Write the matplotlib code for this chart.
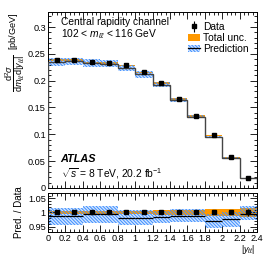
import numpy as np
import matplotlib
matplotlib.use('Agg')
import matplotlib.pyplot as plt
from matplotlib.patches import Patch
from matplotlib.lines import Line2D
from matplotlib.ticker import MultipleLocator

plt.rcParams['font.family'] = ['Liberation Sans', 'DejaVu Sans']
plt.rcParams['mathtext.fontset'] = 'custom'
plt.rcParams['mathtext.rm'] = 'Liberation Sans'
plt.rcParams['mathtext.it'] = 'Liberation Sans:italic'
plt.rcParams['hatch.linewidth'] = 0.7

# bin edges in |y_ll|
edges = [0.0, 0.2, 0.4, 0.6, 0.8, 1.0, 1.2, 1.4, 1.6, 1.8, 2.0, 2.2, 2.4]
# measured cross section [pb/GeV]
data = [0.2380, 0.2392, 0.2340, 0.2330, 0.2283, 0.2155, 0.1958, 0.1660,
        0.1342, 0.0982, 0.0570, 0.0178]
data_err = [0.0008, 0.0008, 0.0008, 0.0008, 0.0008, 0.0008, 0.0007, 0.0006,
            0.0005, 0.0004, 0.0003, 0.0002]
# relative total uncertainty
tot_unc = [0.007, 0.007, 0.007, 0.007, 0.007, 0.007, 0.008, 0.008,
           0.009, 0.012, 0.012, 0.015]
# prediction / data
pred_ratio = [0.986, 0.986, 0.994, 0.994, 0.982, 0.982, 0.984, 0.988,
              0.988, 0.970, 0.976, 0.994]
pred_lo = [0.957, 0.957, 0.964, 0.964, 0.955, 0.955, 0.964, 0.966,
           0.966, 0.946, 0.950, 0.972]
pred_hi = [1.016, 1.016, 1.024, 1.024, 1.008, 1.008, 1.006, 1.011,
           1.011, 0.995, 1.000, 1.022]

edges = np.array(edges)
data = np.array(data)
centers = 0.5 * (edges[:-1] + edges[1:])
widths = np.diff(edges)
tot = np.array(tot_unc)
pr = np.array(pred_ratio)
plo = np.array(pred_lo)
phi = np.array(pred_hi)

orange = '#ff9900'
blue = '#3d8fff'
pale = '#d3e5ff'
hatch = '\\' * 10

fig = plt.figure(figsize=(2.66, 2.56), dpi=100)
ax = fig.add_axes([0.1805, 0.266, 0.786, 0.687])
rax = fig.add_axes([0.1805, 0.094, 0.786, 0.152])


def style_axis(a):
    a.tick_params(which='both', direction='in', top=True, right=True, labelsize=6.6, pad=1.5)
    a.tick_params(which='major', length=5, width=0.6)
    a.tick_params(which='minor', length=2.5, width=0.6)
    for s in a.spines.values():
        s.set_linewidth(0.7)


def draw_bands(a, scale):
    # pale fill, orange total unc., then blue hatch on top
    a.bar(centers, scale * (phi - plo), bottom=scale * plo, width=widths,
          color=pale, linewidth=0, zorder=0.5)
    a.bar(centers, 2 * tot * scale, bottom=scale * (1 - tot), width=widths,
          color=orange, linewidth=0, zorder=1)
    a.bar(centers, scale * (phi - plo), bottom=scale * plo, width=widths,
          facecolor='none', edgecolor=blue, hatch=hatch, linewidth=0, zorder=2)


# main panel
draw_bands(ax, data)
ax.stairs(data * pr, edges, color='#444444', linewidth=1.0, zorder=3)
ax.errorbar(centers, data, yerr=data_err, fmt='s', color='black', ms=3.2,
            elinewidth=0.8, capsize=0, zorder=4)

ax.set_xlim(0, 2.4)
ax.set_ylim(0, 0.328)
ax.xaxis.set_major_locator(MultipleLocator(0.2))
ax.xaxis.set_minor_locator(MultipleLocator(0.05))
ax.yaxis.set_minor_locator(MultipleLocator(0.01))
ax.set_yticks([0, 0.05, 0.1, 0.15, 0.2, 0.25, 0.3])
ax.set_yticklabels(['0', '0.05', '0.1', '0.15', '0.2', '0.25', '0.3'])
ax.tick_params(labelbottom=False)
style_axis(ax)
ax.set_ylabel(r'$\dfrac{\mathrm{d}^2\sigma}{\mathrm{d}m_{\ell\ell}\mathrm{d}|y_{\ell\ell}|}$  [pb/GeV]',
              fontsize=6.6, loc='top', labelpad=1)

ax.text(0.06, 0.925, 'Central rapidity channel', transform=ax.transAxes, fontsize=7.4)
ax.text(0.06, 0.855, r'102 < $m_{\ell\ell}$ < 116 GeV', transform=ax.transAxes, fontsize=7.4)
ax.text(0.06, 0.145, 'ATLAS', transform=ax.transAxes, fontsize=7.8,
        fontweight='bold', fontstyle='italic')
ax.text(0.06, 0.06, r'$\sqrt{s}$ = 8 TeV, 20.2 fb$^{-1}$', transform=ax.transAxes, fontsize=7.4)

h_data = ax.errorbar([], [], yerr=[], fmt='s', color='black', ms=3.2, elinewidth=0.8)
h_tot = Patch(facecolor=orange, edgecolor='none')
h_pred = (Patch(facecolor=pale, edgecolor=blue, hatch=hatch, linewidth=0),
          Line2D([], [], color='black', linewidth=0.9))
ax.legend([h_data, h_tot, h_pred], ['Data', 'Total unc.', 'Prediction'],
          loc='upper right', bbox_to_anchor=(1.0, 0.99), fontsize=7.4, frameon=False,
          handlelength=1.2, handletextpad=0.3, labelspacing=0.1, borderpad=0.3)

# ratio panel
draw_bands(rax, np.ones(len(data)))
rax.hlines(pr, edges[:-1], edges[1:], color='black', linewidth=0.9, zorder=3)
rax.errorbar(centers, np.ones(len(data)), yerr=np.array(data_err) / data, fmt='s',
             color='black', ms=3.2, elinewidth=0.8, capsize=0, zorder=4)
rax.set_xlim(0, 2.4)
rax.set_ylim(0.931, 1.069)
rax.set_yticks([0.95, 1.0, 1.05])
rax.set_yticklabels(['0.95', '1', '1.05'])
rax.yaxis.set_minor_locator(MultipleLocator(0.01))
rax.xaxis.set_minor_locator(MultipleLocator(0.05))
rax.set_xticks(edges)
rax.set_xticklabels(['0', '0.2', '0.4', '0.6', '0.8', '1', '1.2', '1.4', '1.6', '1.8',
                     '2', '2.2', '2.4'])
style_axis(rax)
rax.set_ylabel('Pred. / Data', fontsize=7, labelpad=3)
fig.text(0.96, 0.0, r'$|y_{\ell\ell}|$', fontsize=6.3, ha='right', va='bottom')

fig.savefig('out.png', dpi=100)
